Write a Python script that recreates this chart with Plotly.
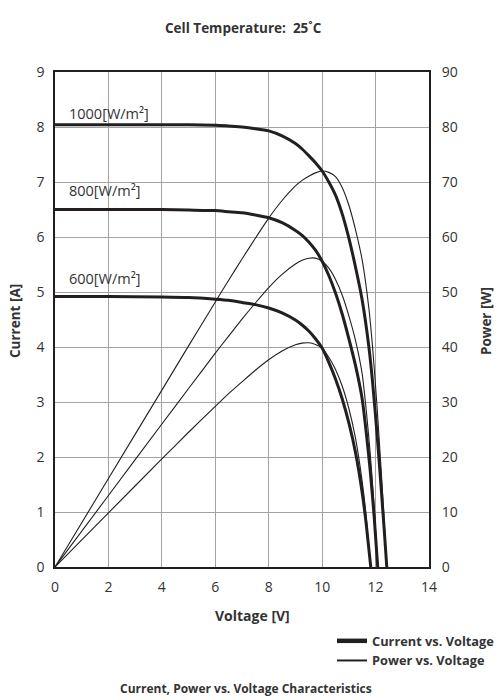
import plotly.graph_objects as go

# ---------------- data ----------------
v_1000 = [0, 2, 4, 5, 6, 6.5, 7, 7.5, 8, 8.5, 9, 9.25, 9.5, 9.75, 10, 10.25, 10.5, 10.75,
          11, 11.25, 11.5, 11.75, 11.9, 12.05, 12.2, 12.32, 12.42]
i_1000 = [8.04, 8.04, 8.04, 8.04, 8.03, 8.02, 8.0, 7.97, 7.93, 7.84, 7.7, 7.6, 7.48, 7.35,
          7.2, 7.0, 6.76, 6.42, 5.98, 5.45, 4.85, 4.0, 3.3, 2.45, 1.5, 0.7, 0]
p_1000 = [0, 16.08, 32.16, 40.2, 48.18, 52.13, 56.0, 59.78, 63.44, 66.64, 69.3, 70.3, 71.06,
          71.66, 72.0, 71.75, 70.98, 69.02, 65.78, 61.31, 55.78, 47.0, 39.27, 29.52, 18.3, 8.62, 0]

v_800 = [0, 2, 4, 5, 6, 6.5, 7, 7.5, 8, 8.5, 9, 9.25, 9.5, 9.75, 10, 10.25, 10.5, 10.75,
         11, 11.25, 11.5, 11.65, 11.8, 11.95, 12.08]
i_800 = [6.5, 6.5, 6.5, 6.49, 6.48, 6.46, 6.44, 6.4, 6.35, 6.26, 6.12, 6.03, 5.91, 5.76,
         5.56, 5.3, 4.98, 4.6, 4.15, 3.66, 3.05, 2.45, 1.75, 0.9, 0]
p_800 = [0, 13.0, 26.0, 32.45, 38.88, 41.99, 45.08, 48.0, 50.8, 53.21, 55.08, 55.78, 56.15,
         56.16, 55.6, 54.33, 52.29, 49.45, 45.65, 41.18, 35.08, 28.54, 20.65, 10.76, 0]

v_600 = [0, 2, 4, 5, 6, 6.5, 7, 7.5, 8, 8.5, 9, 9.25, 9.5, 9.75, 10, 10.25, 10.5, 10.75,
         11, 11.25, 11.5, 11.65, 11.82]
i_600 = [4.92, 4.92, 4.91, 4.9, 4.87, 4.85, 4.81, 4.77, 4.71, 4.62, 4.49, 4.4, 4.29, 4.15,
         3.98, 3.72, 3.42, 3.06, 2.62, 2.08, 1.35, 0.78, 0]
p_600 = [0, 9.84, 19.64, 24.5, 29.22, 31.53, 33.67, 35.78, 37.68, 39.27, 40.41, 40.7, 40.76,
         40.46, 39.8, 38.13, 35.91, 32.9, 28.82, 23.4, 15.53, 9.09, 0]

irr_labels = ["1000[W/m²]", "800[W/m²]", "600[W/m²]"]
label_y = [8.25, 6.85, 5.24]

x_ticks = [0, 2, 4, 6, 8, 10, 12, 14]
y_ticks = [0, 1, 2, 3, 4, 5, 6, 7, 8, 9]
y2_ticks = [0, 10, 20, 30, 40, 50, 60, 70, 80, 90]

# ---------------- figure ----------------
INK = "#231f20"
TXT = "#333333"
FONT = "Open Sans"
GRID = "#a3a3a3"
fig = go.Figure()

for v, i, p in [(v_1000, i_1000, p_1000), (v_800, i_800, p_800), (v_600, i_600, p_600)]:
    fig.add_trace(go.Scatter(x=v, y=p, yaxis="y2", mode="lines",
                             line=dict(color=INK, width=1.1, shape="spline", smoothing=0.5),
                             showlegend=False, hoverinfo="skip"))
    fig.add_trace(go.Scatter(x=v, y=i, mode="lines",
                             line=dict(color=INK, width=3, shape="spline", smoothing=0.5),
                             showlegend=False, hoverinfo="skip"))

# legend entries
fig.add_trace(go.Scatter(x=[None], y=[None], mode="lines", name="<b>Current vs. Voltage</b>",
                         line=dict(color=INK, width=4.5)))
fig.add_trace(go.Scatter(x=[None], y=[None], mode="lines", name="<b>Power vs. Voltage</b>",
                         line=dict(color=INK, width=2)))

for txt, yy in zip(irr_labels, label_y):
    fig.add_annotation(x=0.45, y=yy, text=txt, showarrow=False, xanchor="left",
                       yanchor="middle", font=dict(family=FONT, size=14.5, color=TXT))

tick_font = dict(family=FONT, size=14, color=TXT)
fig.update_layout(
    width=500, height=700,
    margin=dict(l=55, r=71, t=72, b=133, autoexpand=False),
    paper_bgcolor="white", plot_bgcolor="white",
    font=dict(family=FONT, size=13, color=TXT),
    xaxis=dict(range=[0, 14], tickvals=x_ticks, showgrid=True, gridcolor=GRID, gridwidth=1,
               showline=True, linecolor=INK, linewidth=1.5, mirror=True, zeroline=False,
               ticks="outside", ticklen=6, tickcolor="rgba(0,0,0,0)", tickfont=tick_font,
               automargin=False),
    yaxis=dict(range=[0, 9], tickvals=y_ticks, showgrid=True, gridcolor=GRID, gridwidth=1,
               showline=True, linecolor=INK, linewidth=1.5, mirror=True, zeroline=False,
               ticks="outside", ticklen=6, tickcolor="rgba(0,0,0,0)", tickfont=tick_font,
               automargin=False),
    yaxis2=dict(range=[0, 90], tickvals=y2_ticks, overlaying="y", side="right", showgrid=False,
                zeroline=False, showline=False, ticks="outside", ticklen=9,
                tickcolor="rgba(0,0,0,0)", tickfont=tick_font, automargin=False),
    legend=dict(xref="container", yref="container", x=0.664, xanchor="left",
                y=1 - 626 / 700, yanchor="top", bgcolor="rgba(0,0,0,0)",
                font=dict(family=FONT, size=12.8, color=TXT), itemwidth=30,
                tracegroupgap=0),
    showlegend=True,
)

def text_at(px, py, text, size, angle=0):
    fig.add_annotation(xref="paper", yref="paper",
                       x=(px - 55) / 374, y=(567 - py) / 495,
                       xanchor="center", yanchor="middle", textangle=angle,
                       text=text, showarrow=False,
                       font=dict(family=FONT, size=size, color=TXT))

text_at(243, 28, "<b>Cell Temperature:  25˚C</b>", 13.5)
text_at(252, 615, "<b>Voltage [V]</b>", 14)
text_at(15, 321, "<b>Current [A]</b>", 13.5, -90)
text_at(486, 321, "<b>Power [W]</b>", 13.5, -90)
text_at(246, 688, "<b>Current, Power vs. Voltage Characteristics</b>", 12)

fig.write_html("out.html", config={"displayModeBar": False},
               post_script="document.body.style.margin='0';")
